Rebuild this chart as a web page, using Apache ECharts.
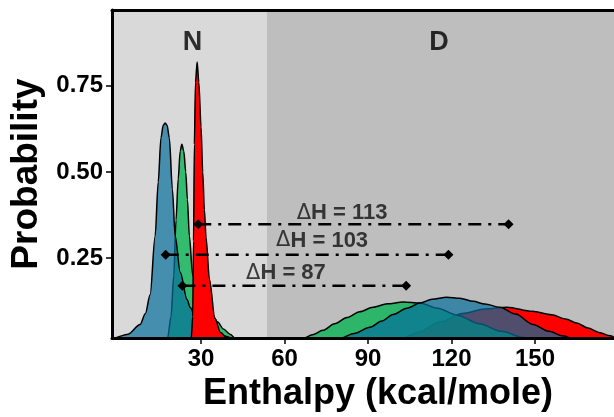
<!DOCTYPE html>
<html><head><meta charset="utf-8">
<script src="https://cdn.jsdelivr.net/npm/echarts@6/dist/echarts.min.js"></script>
<style>html,body{margin:0;padding:0;background:#fff}#c{width:614px;height:417px}</style>
</head><body><div id="c"></div>
<script>
// ---- data ----
const xTicks = [30, 60, 90, 120, 150];
const yTicks = [0.25, 0.50, 0.75];
const stateBoundary = 53.7;   // N | D split on enthalpy axis
const stateLabels = ['N', 'D'];
const stateLabelX = [26.9, 115.5];
const stateLabelY = [0.875, 0.875];

// narrow (N-state) densities
const blueNx = [-4, -1.6, 3.8, 8.1, 10, 11.7, 13.5, 14.6, 15.6, 16.4, 17.1, 17.8, 18.6, 19.7, 20.7, 22.5, 25, 26.1, 28, 33.2, 38, 44, 50];
const blueNy = [0.01, 0.0185, 0.03, 0.058, 0.09, 0.144, 0.314, 0.47, 0.599, 0.635, 0.642, 0.635, 0.599, 0.45, 0.314, 0.21, 0.13, 0.107, 0.08, 0.038, 0.025, 0.01, 0];
const greenNx = [14, 18, 19.2, 20.2, 21, 21.8, 22.5, 23.1, 23.8, 24.5, 25.1, 25.8, 27, 29, 31, 34, 36, 38, 40.4, 43, 46];
const greenNy = [0, 0.02, 0.08, 0.2, 0.36, 0.48, 0.56, 0.58, 0.56, 0.5, 0.42, 0.314, 0.2, 0.14, 0.11, 0.087, 0.065, 0.045, 0.03, 0.012, 0];
const redNx = [24, 25.5, 26.5, 27.0, 27.3, 27.6, 28.0, 28.6, 29.2, 30.0, 30.6, 31.2, 31.8, 33.0, 35.0, 37.0, 40.0, 44.0];
const redNy = [0, 0.005, 0.02, 0.08, 0.3, 0.58, 0.76, 0.818, 0.76, 0.63, 0.5, 0.39, 0.31, 0.19, 0.075, 0.035, 0.012, 0];

// broad (D-state) densities
const redDx = [92, 100, 108, 116, 124, 132, 140, 149, 156, 161, 165, 169, 173, 177, 181, 186];
const redDy = [0, 0.01, 0.035, 0.065, 0.09, 0.103, 0.108, 0.096, 0.086, 0.074, 0.062, 0.048, 0.035, 0.025, 0.01, 0];
const greenDx = [60, 66.7, 70, 73.8, 78, 82.5, 87, 91.8, 97, 102.6, 108.7, 115, 122, 130, 138, 146, 154, 160];
const greenDy = [0, 0.018, 0.028, 0.041, 0.06, 0.078, 0.095, 0.108, 0.118, 0.123, 0.12, 0.105, 0.085, 0.06, 0.038, 0.02, 0.008, 0];
const blueDx = [72, 80, 85, 90.7, 95, 99, 104, 108.7, 113, 118.3, 123, 127.8, 132, 137.4, 143, 149.3, 155, 160, 165, 170];
const blueDy = [0, 0.018, 0.032, 0.05, 0.068, 0.087, 0.105, 0.12, 0.131, 0.137, 0.134, 0.125, 0.117, 0.108, 0.088, 0.058, 0.038, 0.025, 0.012, 0];

// enthalpy-gap arrows
const arrowStart = [29.0, 17.3, 23.3];
const arrowEnd = [140.5, 118.9, 103.7];
const arrowY = [0.348, 0.26, 0.17];
const arrowLabels = ['113', '103', '87'];
const arrowLabelX = [80.7, 73.5, 60.5];
const arrowLabelY = [0.38, 0.30, 0.206];

// ---- chart ----
const FONT = '"Liberation Sans", Arial, Helvetica, sans-serif';
const pairs = (xs, ys) => xs.map((x, i) => [x, ys[i]]);
function area(xs, ys, fill, z) {
  return {
    type: 'line', data: pairs(xs, ys), smooth: 0.3, smoothMonotone: 'x',
    showSymbol: false, symbol: 'none', clip: true, silent: true, z: z,
    lineStyle: { color: '#000', width: 1.5 },
    areaStyle: { color: fill, opacity: 1, origin: 'start' }
  };
}
const RED = 'rgb(255,0,0)';
const GREEN = 'rgba(9,179,85,0.8)';
const BLUE = 'rgba(5,110,155,0.7)';

const series = [];
series.push({
  type: 'line', data: [], z: 1, silent: true,
  markArea: { silent: true, itemStyle: { color: '#d9d9d9' },
    data: [[{ xAxis: -2 }, { xAxis: stateBoundary }]] }
});
series.push(area(redDx, redDy, RED, 2));
series.push(area(greenDx, greenDy, GREEN, 3));
series.push(area(blueDx, blueDy, BLUE, 4));
series.push(area(greenNx, greenNy, GREEN, 5));
series.push(area(blueNx, blueNy, BLUE, 6));
series.push(area(redNx, redNy, RED, 7));
arrowStart.forEach((s, i) => {
  series.push({
    type: 'line', data: [[s, arrowY[i]], [arrowEnd[i], arrowY[i]]],
    symbol: 'diamond', symbolSize: 10, showSymbol: true, silent: true, z: 10,
    lineStyle: { color: '#000', width: 2.5, type: [13, 7, 3, 7] },
    itemStyle: { color: '#000' }
  });
});
series.push({
  type: 'scatter', symbolSize: 0, silent: true, z: 11,
  data: arrowLabels.map((t, i) => ({ value: [arrowLabelX[i], arrowLabelY[i]], name: t })),
  label: { show: true, position: 'inside', formatter: p => '{d|\u0394}{t|H = ' + p.name + '}',
    rich: {
      d: { fontFamily: 'DejaVu Sans', fontWeight: 'normal', fontSize: 21, color: '#111' },
      t: { fontFamily: FONT, fontWeight: 'bold', fontSize: 22, color: '#111' }
    } }
});
series.push({
  type: 'scatter', symbolSize: 0, silent: true, z: 11,
  data: stateLabels.map((t, i) => ({ value: [stateLabelX[i], stateLabelY[i]], name: t })),
  label: { show: true, position: 'inside', formatter: p => p.name,
    fontFamily: FONT, fontWeight: 'bold', fontSize: 27, color: '#000' }
});

const chart = echarts.init(document.getElementById('c'), null, { renderer: 'canvas' });
chart.setOption({
  animation: false,
  backgroundColor: '#ffffff',
  grid: { left: 112, right: 0, top: 10, bottom: 73, show: true, backgroundColor: '#bebebe', borderWidth: 0 },
  xAxis: [{
    type: 'value', min: -2, max: 178.4, position: 'bottom', z: 20,
    name: 'Enthalpy (kcal/mole)', nameLocation: 'middle', nameGap: 34,
    nameTextStyle: { fontFamily: FONT, fontWeight: 'bold', fontSize: 36, color: '#000', padding: [0, 0, 0, 30] },
    axisLine: { show: true, onZero: false, lineStyle: { color: '#000', width: 3 } },
    axisTick: { show: true, length: 6, customValues: xTicks, lineStyle: { color: '#000', width: 1.5 } },
    axisLabel: { customValues: xTicks, margin: 9, fontFamily: FONT, fontWeight: 'bold', fontSize: 24, color: '#000' },
    splitLine: { show: false }
  }, {
    type: 'value', min: -2, max: 178.4, position: 'top', z: 20,
    axisLine: { show: true, onZero: false, lineStyle: { color: '#000', width: 3 } },
    axisTick: { show: false }, axisLabel: { show: false }, splitLine: { show: false }
  }],
  yAxis: {
    type: 'value', min: 0.0185, max: 0.969, z: 20,
    name: 'Probability', nameLocation: 'middle', nameGap: 66,
    nameTextStyle: { fontFamily: FONT, fontWeight: 'bold', fontSize: 37, color: '#000' },
    axisLine: { show: true, onZero: false, lineStyle: { color: '#000', width: 3 } },
    axisTick: { show: true, length: 6, customValues: yTicks, lineStyle: { color: '#000', width: 1.5 } },
    axisLabel: { customValues: yTicks, margin: 9, fontFamily: FONT, fontWeight: 'bold', fontSize: 24, color: '#000',
      formatter: v => v.toFixed(2) },
    splitLine: { show: false }
  },
  series: series
});
</script></body></html>
